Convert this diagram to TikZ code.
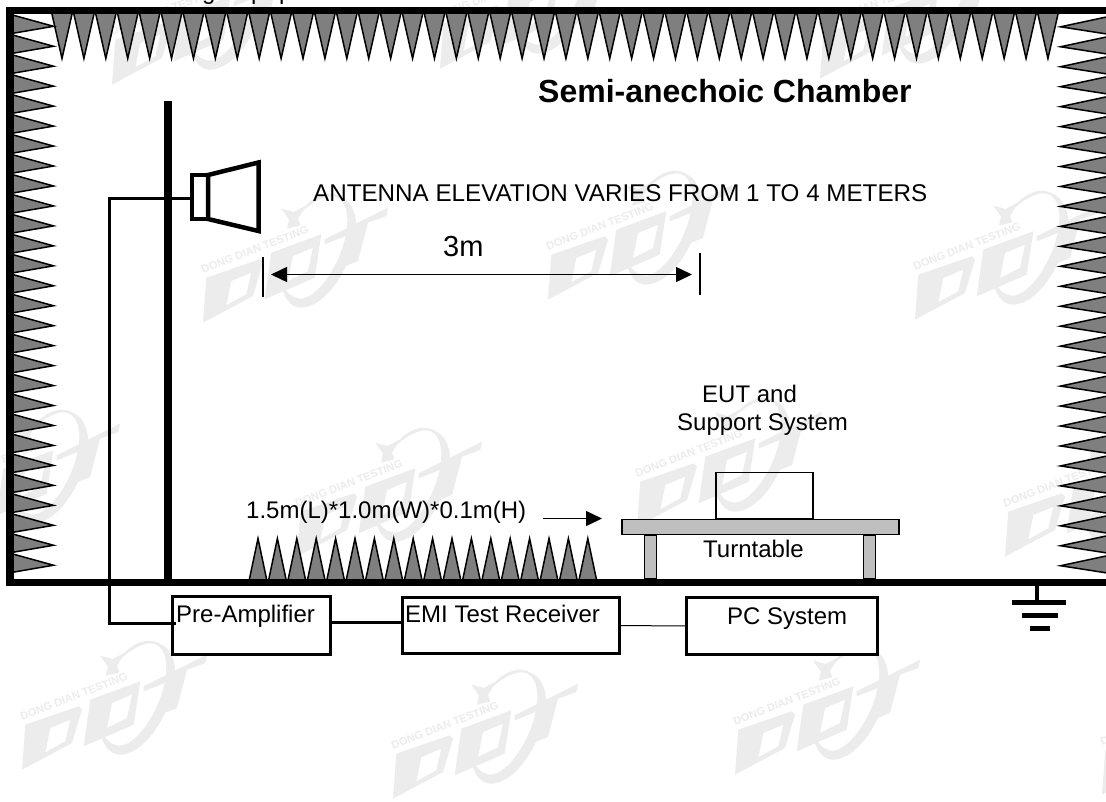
\documentclass[tikz,border=0pt]{standalone}
\usepackage{fontspec}
\setmainfont{Liberation Sans}
\usetikzlibrary{arrows.meta,calc}
\definecolor{wmgray}{HTML}{ECECEC}
\definecolor{spikegray}{HTML}{7F7F7F}
\definecolor{tablegray}{HTML}{BFBFBF}
\newcommand{\wmark}[2]{%
\begin{scope}[shift={(#1,#2)},x=0.3333pt,y=-0.3333pt,shift={(-40,-262)}]
\fill[wmgray] (455,40) .. controls (500,60) and (510,130) .. (490,190)
  .. controls (465,280) and (400,370) .. (335,372)
  .. controls (300,372) and (280,340) .. (272,290)
  .. controls (285,320) and (305,345) .. (335,345)
  .. controls (385,340) and (445,250) .. (465,170)
  .. controls (480,110) and (475,55) .. (440,40)
  .. controls (410,30) and (365,55) .. (325,95)
  .. controls (360,40) and (415,15) .. (455,40) -- cycle;
\fill[wmgray,even odd rule] (40,417)--(50,282)--(210,227)--(220,237)--(190,337)--cycle
  (110,365)--(125,292)--(185,267)--(170,332)--cycle;
\fill[wmgray,even odd rule] (225,347)--(245,207)--(395,152)--(375,282)--cycle
  (295,292)--(310,217)--(370,192)--(355,262)--cycle;
\fill[wmgray] (405,167)--(595,72)--(590,97)--(535,117)--(505,232)--(455,252)--(480,152)--(405,182)--cycle;
\fill[wmgray] (275,75)--(312,85)--(350,65)--(325,105)--(332,125)--(292,135)--(298,108)--cycle;
\node[text=wmgray,anchor=base west,rotate=21,inner sep=0pt,font=\bfseries\fontsize{11}{11}\selectfont] at (40,270) {DONG DIAN TESTING};
\end{scope}}
\tikzset{
  x=1pt,y=-1pt,
  lbl/.style={anchor=base west,inner sep=0pt,font=\fontsize{24}{28}\selectfont},
  spike/.style={fill=spikegray,draw=black,line width=1.5pt,line join=miter},
  wall/.style={line width=7.6pt,line join=miter,draw=black},
  box/.style={draw=black,line width=3pt,fill=white,inner sep=0pt,outer sep=0pt,anchor=north west},
  tbl/.style={draw=black,line width=1.8pt,fill=tablegray,inner sep=0pt,outer sep=0pt,anchor=north west},
  wire/.style={draw=black,line width=3pt,line join=miter},
  thinwire/.style={draw=black,line width=1pt},
  dim/.style={draw=black,line width=1.5pt},
  head/.style={draw=black,line width=1.5pt,-{Triangle[length=16pt,width=15pt]}},
  heads/.style={draw=black,line width=1.5pt,{Triangle[length=16pt,width=15pt]}-{Triangle[length=16pt,width=15pt]}},
}
\begin{document}
\begin{tikzpicture}
\useasboundingbox (0,0) rectangle (1106,801);
\fill[white] (0,0) rectangle (1106,801);
% watermarks
\foreach \a/\b in {112/33,440/17,820/27,-65/487,203/271,548/248,915/268,297/505,637/475,1005/505,22/718,393/747,735/723,1102/743}{\wmark{\a}{\b}}
% clipped text above the frame
\node[lbl] (clipg) at (202,-1) {g};
\node[lbl] (clipp) at (251,-1) {p};
\node[lbl] (clipq) at (279,-1) {p};
% absorbers
\foreach \i in {0,...,45}{
  \pgfmathsetmacro\t{62+\i*21.91}
  \draw[spike] (\t-10.5,12) -- (\t,58.5) -- (\t+10.5,12);
}
\foreach \i in {0,...,27}{
  \pgfmathsetmacro\t{26.3+\i*19.96}
  \draw[spike] (10,\t-12) -- (53.5,\t) -- (10,\t+7.5);
  \draw[spike] (1112,\t-10.5) -- (1060.5,\t+0.5) -- (1112,\t+8.5);
}
\foreach \i in {0,...,17}{
  \pgfmathsetmacro\t{258+\i*19.4}
  \draw[spike] (\t-9.2,582) -- (\t,538.5) -- (\t+9.2,582);
}
% chamber walls
\draw[wall] (1112,10.3) -- (10,10.3) -- (10,582.5) -- (1112,582.5);
% mast
\coordinate (masttop) at (168,101);
\coordinate (mastfoot) at (168,581);
\draw[line width=8pt] (masttop) -- (mastfoot);
% horn
\node[box,line width=4pt,minimum width=16pt,minimum height=44pt] (feed) at (192,175) {};
\draw[line width=4.5pt,line join=miter,fill=white] (208,175) -- (258.5,162.5) -- (258.5,231) -- (208,219) -- cycle;
% table
\node[tbl,minimum width=12pt,minimum height=44pt] (legl) at (644.5,535) {};
\node[tbl,minimum width=12pt,minimum height=44pt] (legr) at (863.5,535) {};
\node[tbl,minimum width=277pt,minimum height=15pt] (top) at (622,519.5) {};
\node[draw=black,line width=1.8pt,inner sep=0pt,anchor=north west,minimum width=97pt,minimum height=46pt] (eut) at (715,471.5) {};
% boxes
\node[box,minimum width=158pt,minimum height=58pt] (pre) at (172,596) {};
\node[box,minimum width=217pt,minimum height=56pt] (emi) at (402,597.5) {};
\node[box,minimum width=191pt,minimum height=57pt] (pc) at (686.5,597.5) {};
% wires
\coordinate (bend) at (109.5,198.5);
\coordinate (stub) at (176,623);
\coordinate (lev) at (330,622);
\draw[wire] (feed.west |- bend) -- (bend) |- (stub);
\draw[wire] (pre.east |- lev) -- (emi.west |- lev);
\draw[thinwire] (emi.east) -- (pc.west);
% dimension
\coordinate (t1a) at (263,257); \coordinate (t1b) at (263,297);
\coordinate (t2a) at (700,253); \coordinate (t2b) at (700,295);
\coordinate (d1) at (271,274.5); \coordinate (d2) at (692,274.5);
\draw[dim] (t1a) -- (t1b);
\draw[dim] (t2a) -- (t2b);
\draw[heads] (d1) -- (d2);
\coordinate (a1) at (543,518.5); \coordinate (a2) at (602,518.5);
\draw[head] (a1) -- (a2);
% ground
\coordinate (g0) at (1037,586);
\coordinate (g1) at (1037,602);
\draw[line width=4.5pt] (g0) -- (g1);
\draw[line width=5pt] (1012,602) -- (1066,602);
\draw[line width=5pt] (1022,615) -- (1058,615);
\draw[line width=5pt] (1030,628) -- (1050,628);
% labels
\node[lbl,font=\bfseries\fontsize{32}{36}\selectfont] (title) at (538,102) {Semi-anechoic Chamber};
\node[lbl,font=\fontsize{24.2}{28}\selectfont] (elev) at (313,201) {ANTENNA ELEVATION VARIES FROM 1 TO 4 METERS};
\node[lbl,font=\fontsize{29}{32}\selectfont] (three) at (443,256) {3m};
\node[lbl] (eutt) at (702,402) {EUT and};
\node[lbl] (sup) at (677,430) {Support System};
\node[lbl] (size) at (246,518) {1.5m(L)*1.0m(W)*0.1m(H)};
\node[lbl] (turn) at (703,557) {Turntable};
\node[lbl] (pret) at (176,622) {Pre-Amplifier};
\node[lbl] (emit) at (405,622) {EMI Test Receiver};
\node[lbl] (pct) at (727,624) {PC System};
\end{tikzpicture}
\end{document}
